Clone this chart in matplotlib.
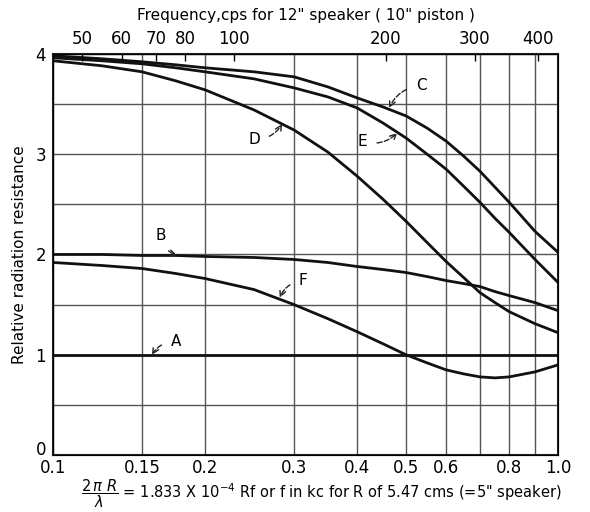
import numpy as np
import matplotlib.pyplot as plt
import matplotlib.transforms as mtransforms
from matplotlib.ticker import FixedLocator, NullFormatter, NullLocator

# values
ka = [0.1, 0.125, 0.15, 0.175, 0.2, 0.25, 0.3, 0.35, 0.4, 0.45, 0.5,
      0.55, 0.6, 0.65, 0.7, 0.75, 0.8, 0.9, 1.0]
curve_a = [1.0] * len(ka)
curve_b = [2.0, 2.0, 1.99, 1.99, 1.98, 1.97, 1.95, 1.92, 1.88, 1.85, 1.82,
           1.78, 1.74, 1.71, 1.68, 1.63, 1.59, 1.52, 1.44]
curve_c = [3.98, 3.95, 3.92, 3.89, 3.86, 3.82, 3.77, 3.67, 3.56, 3.47, 3.38,
           3.26, 3.13, 2.98, 2.83, 2.67, 2.52, 2.23, 2.02]
curve_d = [3.93, 3.88, 3.82, 3.73, 3.64, 3.44, 3.24, 3.02, 2.78, 2.55, 2.33,
           2.12, 1.93, 1.77, 1.62, 1.52, 1.43, 1.31, 1.22]
curve_e = [3.96, 3.93, 3.90, 3.86, 3.82, 3.75, 3.66, 3.57, 3.46, 3.31, 3.16,
           3.0, 2.85, 2.68, 2.52, 2.36, 2.22, 1.95, 1.72]
curve_f = [1.92, 1.89, 1.86, 1.81, 1.76, 1.65, 1.5, 1.36, 1.23, 1.11, 1.0,
           0.92, 0.85, 0.81, 0.78, 0.77, 0.78, 0.83, 0.9]

bottom_ticks = [0.1, 0.15, 0.2, 0.3, 0.4, 0.5, 0.6, 0.7, 0.8, 0.9, 1.0]
bottom_labels = ['0.1', '0.15', '0.2', '0.3', '0.4', '0.5', '0.6', '', '0.8', '', '1.0']
freq_ticks = [50, 60, 70, 80, 100, 200, 300, 400]
k_freq = 0.00228  # ka per cps for the 10" piston

# label text, label position, arrow tip (data coords)
labels = [
    ('A', (0.175, 1.13), (0.157, 1.0)),
    ('B', (0.163, 2.19), (0.176, 1.99)),
    ('C', (0.535, 3.68), (0.463, 3.46)),
    ('D', (0.25, 3.15), (0.284, 3.30)),
    ('E', (0.41, 3.13), (0.48, 3.21)),
    ('F', (0.313, 1.74), (0.281, 1.57)),
]

fig = plt.figure(figsize=(5.9, 5.12), dpi=100)
ax = fig.add_axes([0.09, 0.111, 0.856, 0.784])

for ys in [curve_a, curve_b, curve_c, curve_d, curve_e, curve_f]:
    ax.plot(ka, ys, color='#111111', lw=2.0, zorder=3)

ax.set_xscale('log')
ax.set_xlim(0.1, 1.0)
ax.set_ylim(0, 4)
ax.xaxis.set_major_locator(FixedLocator(bottom_ticks))
ax.xaxis.set_minor_locator(NullLocator())
ax.xaxis.set_minor_formatter(NullFormatter())
ax.set_xticklabels(bottom_labels)
ax.set_yticks([0, 1, 2, 3, 4])
ax.set_yticks([0.5, 1.5, 2.5, 3.5], minor=True)
ax.grid(True, which='both', color='#555555', lw=1.0)
ax.tick_params(axis='y', which='both', length=0, labelsize=12, pad=5)
ax.tick_params(axis='x', which='both', length=0, labelsize=12, pad=3)
for s in ax.spines.values():
    s.set_linewidth(1.5)
    s.set_color('#222222')

# nudge the "0" label up so it clears "0.1"
lab0 = ax.get_yticklabels()[0]
lab0.set_transform(lab0.get_transform() +
                   mtransforms.ScaledTranslation(0, 5 / 72, fig.dpi_scale_trans))

ax.set_ylabel('Relative radiation resistance', fontsize=11, labelpad=6)
fig.text(0.545, 0.004,
         r'$\dfrac{2\,\pi\ R}{\lambda}$' + ' = 1.833 X 10$^{-4}$ Rf or f in kc for R of 5.47 cms (=5" speaker)',
         fontsize=10.5, ha='center', va='bottom')

# top frequency scale
top = ax.twiny()
top.set_xscale('log')
top.set_xlim(ax.get_xlim())
top.xaxis.set_major_locator(FixedLocator([f * k_freq for f in freq_ticks]))
top.xaxis.set_minor_locator(NullLocator())
top.xaxis.set_minor_formatter(NullFormatter())
top.set_xticklabels([str(f) for f in freq_ticks])
top.tick_params(direction='in', length=5, width=1.0, labelsize=12, pad=4)
top.set_xlabel('Frequency,cps for 12" speaker ( 10" piston )', fontsize=11, labelpad=7)

for txt, pos, tip in labels:
    ax.annotate(txt, xy=tip, xytext=pos, fontsize=11, ha='center', va='center',
                arrowprops=dict(arrowstyle='->', ls='--', lw=1.0, color='#222222',
                                connectionstyle='arc3,rad=0.3', shrinkA=5, shrinkB=0),
                zorder=4)

fig.savefig('out.png', dpi=100)
